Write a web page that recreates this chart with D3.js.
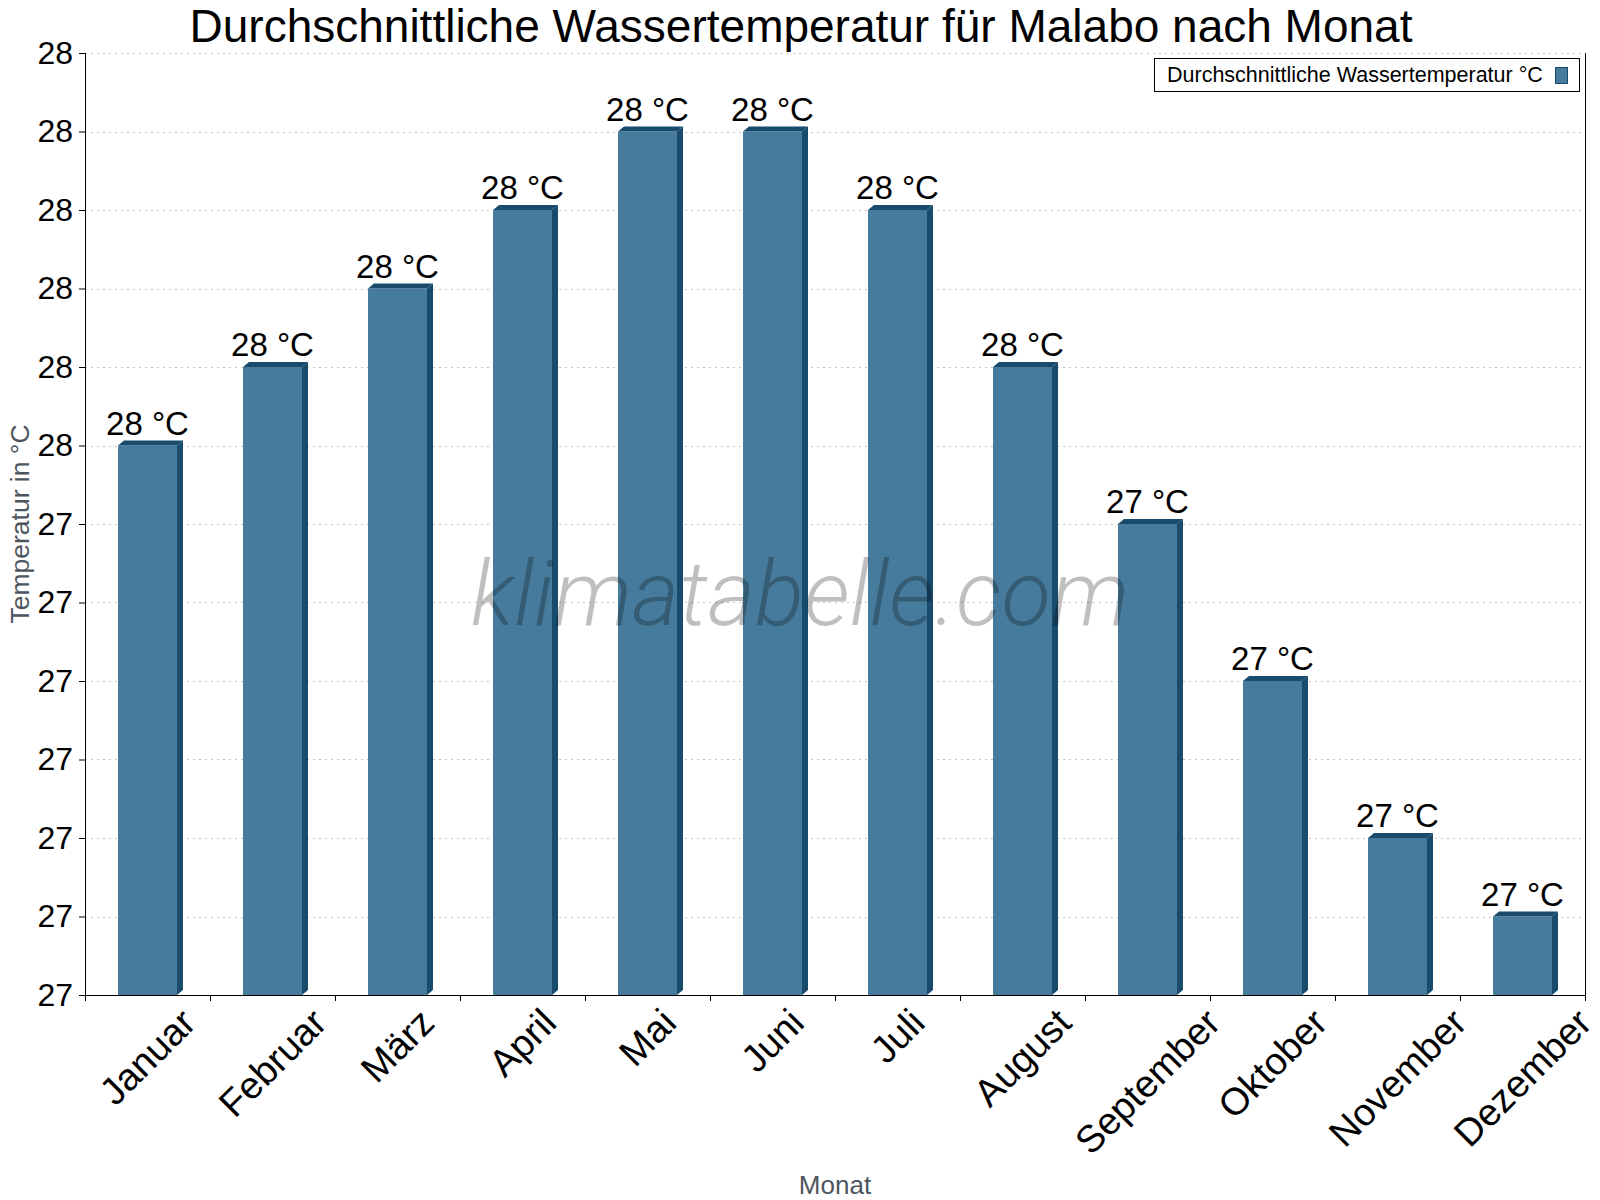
<!DOCTYPE html>
<html>
<head>
<meta charset="utf-8">
<script src="https://cdn.jsdelivr.net/npm/d3@7"></script>
<style>
  body { margin: 0; background: #fff; }
  svg { font-family: "Liberation Sans", Arial, sans-serif; }
</style>
</head>
<body>
<svg id="svg" width="1600" height="1200"></svg>
<script>
// Data
var months = ["Januar", "Februar", "März", "April", "Mai", "Juni", "Juli", "August", "September", "Oktober", "November", "Dezember"];
var waterTemp = [27.5, 27.6, 27.7, 27.8, 27.9, 27.9, 27.8, 27.6, 27.4, 27.2, 27.0, 26.9];
var yTicks = [26.8, 26.9, 27.0, 27.1, 27.2, 27.3, 27.4, 27.5, 27.6, 27.7, 27.8, 27.9, 28.0];
var seriesName = "Durchschnittliche Wassertemperatur °C";

var _FRONT = "#467b9d";
var _DARK = "#184b6c";
var _DX = 6, _DY = 5; // 3d depth of bars

var svg = d3.select("#svg");
const margin = { top: 53, right: 15, bottom: 205, left: 85 },
  width = +svg.attr("width") - margin.left - margin.right,
  height = +svg.attr("height") - margin.top - margin.bottom;

let g = svg.append("g").attr("transform", "translate(" + margin.left + "," + margin.top + ")");

let x = d3.scaleBand()
  .domain(months)
  .range([0, width])
  .paddingInner(0.528)
  .paddingOuter(0.264);

let y = d3.scaleLinear()
  .domain([26.8, 28.0])
  .range([height, 0]);

let fmt = d3.format(".0f");

// Title
svg.append("text")
  .attr("x", 801)
  .attr("y", 42)
  .attr("text-anchor", "middle")
  .attr("font-size", "46px")
  .attr("fill", "#000")
  .text("Durchschnittliche Wassertemperatur für Malabo nach Monat");

// Dashed grid lines
g.append("g")
  .selectAll("line")
  .data(yTicks.slice(1))
  .enter().append("line")
  .attr("x1", 0)
  .attr("x2", width)
  .attr("y1", d => Math.round(y(d)) + 0.5)
  .attr("y2", d => Math.round(y(d)) + 0.5)
  .attr("stroke", "#c4c4c4")
  .attr("stroke-dasharray", "2,4");

// Bars (front, top face, side face)
let bars = g.selectAll(".bar")
  .data(months.map((m, i) => ({ month: m, value: waterTemp[i] })))
  .enter().append("g")
  .attr("class", "bar");

bars.append("rect")
  .attr("x", d => x(d.month))
  .attr("y", d => y(d.value))
  .attr("width", x.bandwidth())
  .attr("height", d => height - y(d.value))
  .attr("fill", _FRONT);

bars.append("polygon")
  .attr("points", d => {
    let x0 = x(d.month), x1 = x0 + x.bandwidth(), y0 = y(d.value);
    return [[x0, y0], [x0 + _DX, y0 - _DY], [x1 + _DX, y0 - _DY], [x1, y0]].join(" ");
  })
  .attr("fill", _DARK);

bars.append("polygon")
  .attr("points", d => {
    let x1 = x(d.month) + x.bandwidth(), y0 = y(d.value);
    return [[x1, y0], [x1 + _DX, y0 - _DY], [x1 + _DX, height - _DY], [x1, height]].join(" ");
  })
  .attr("fill", _DARK);

// Value labels
bars.append("text")
  .attr("x", d => x(d.month) + x.bandwidth() / 2)
  .attr("y", d => y(d.value) - _DY - 6)
  .attr("text-anchor", "middle")
  .attr("font-size", "33px")
  .attr("fill", "#000")
  .text(d => fmt(d.value) + " °C");

// Watermark
svg.append("text")
  .attr("x", 800)
  .attr("y", 625)
  .attr("text-anchor", "middle")
  .attr("font-family", "Roboto, 'Open Sans', sans-serif")
  .attr("font-weight", 300)
  .attr("font-style", "italic")
  .attr("font-size", "91px")
  .attr("fill", "rgba(0,0,0,0.25)")
  .text("klimatabelle.com");

// Y axis
let yAxis = g.append("g")
  .call(d3.axisLeft(y)
    .tickValues(yTicks)
    .tickSize(6)
    .tickPadding(6)
    .tickFormat(fmt));
yAxis.select(".domain").remove();
yAxis.selectAll("text").attr("font-size", "32px").attr("font-family", null).attr("fill", "#000");
yAxis.selectAll("line").attr("stroke", "#000");

// Axis frame: left, right, bottom
g.append("line").attr("x1", 0.5).attr("x2", 0.5).attr("y1", 0).attr("y2", height).attr("stroke", "#000");
g.append("line").attr("x1", width + 0.5).attr("x2", width + 0.5).attr("y1", 0).attr("y2", height).attr("stroke", "#000");
g.append("line").attr("x1", 0).attr("x2", width).attr("y1", height + 0.5).attr("y2", height + 0.5).attr("stroke", "#000");

// X ticks at band boundaries
let half = (x.step() - x.bandwidth()) / 2;
let bounds = months.map(m => x(m) - half).concat([x(months[months.length - 1]) - half + x.step()]);
g.append("g")
  .selectAll("line")
  .data(bounds)
  .enter().append("line")
  .attr("x1", d => Math.round(d) + 0.5)
  .attr("x2", d => Math.round(d) + 0.5)
  .attr("y1", height)
  .attr("y2", height + 6)
  .attr("stroke", "#000");

// X labels rotated -45, centered on band, top at fixed line
let xl = g.append("g");
months.forEach(m => {
  let t = xl.append("text")
    .attr("text-anchor", "middle")
    .attr("dominant-baseline", "central")
    .attr("font-size", "38px")
    .attr("fill", "#000")
    .text(m);
  let len = t.node().getComputedTextLength();
  let cx = x(m) + x.bandwidth() / 2;
  let cy = height + 11 + 0.7071 * (len + 28) / 2;
  t.attr("transform", "translate(" + cx + "," + cy + ") rotate(-45)");
});

// Axis titles
svg.append("text")
  .attr("x", margin.left + width / 2)
  .attr("y", 1194)
  .attr("text-anchor", "middle")
  .attr("font-size", "26px")
  .attr("fill", "#4d555e")
  .text("Monat");

svg.append("text")
  .attr("transform", "translate(29," + (margin.top + height / 2) + ") rotate(-90)")
  .attr("text-anchor", "middle")
  .attr("font-size", "26.5px")
  .attr("fill", "#4d555e")
  .text("Temperatur in °C");

// Legend
let legend = svg.append("g");
legend.append("rect")
  .attr("x", 1154.5).attr("y", 58.5)
  .attr("width", 425).attr("height", 33)
  .attr("fill", "#fff")
  .attr("stroke", "#000");
legend.append("text")
  .attr("x", 1167)
  .attr("y", 82)
  .attr("font-size", "21.5px")
  .attr("fill", "#000")
  .text(seriesName);
legend.append("rect")
  .attr("x", 1555.5).attr("y", 67.5)
  .attr("width", 12).attr("height", 16)
  .attr("fill", _FRONT)
  .attr("stroke", _DARK);
</script>
</body>
</html>
